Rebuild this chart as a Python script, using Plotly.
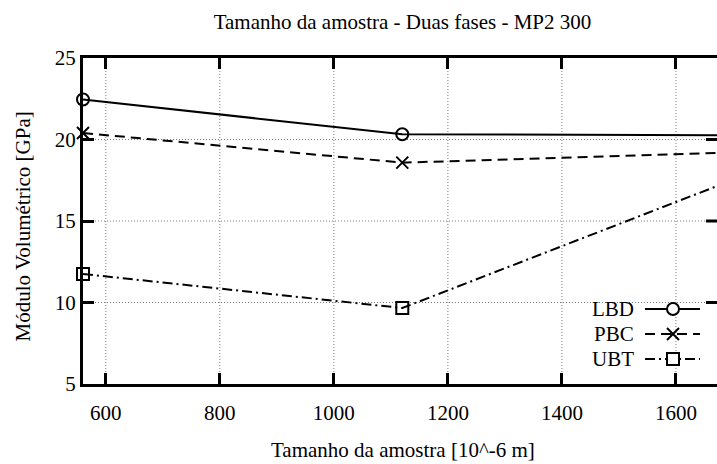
import plotly.graph_objects as go

# ---- data ----
sizes = [560, 1120, 1680]
lbd = [22.45, 20.32, 20.26]
pbc = [20.40, 18.58, 19.18]
ubt = [11.75, 9.66, 17.25]
series_names = ["LBD", "PBC", "UBT"]
x_ticks = [600, 800, 1000, 1200, 1400, 1600]
y_ticks = [5, 10, 15, 20, 25]

FONT = "Liberation Serif"
FS = 21
W, H = 717, 464
L, R, T, B = 83, 0, 58, 80
PW, PH = W - L - R, H - T - B
AXW, TKL = 3, 11
LW = 2


def px(xp):
    return (xp - L) / PW


def py(yp):
    return (H - B - yp) / PH


styles = [
    dict(dash="solid", symbol="circle-open"),
    dict(dash="10px,6px", symbol="x-thin-open"),
    dict(dash="10px,4px,2px,4px", symbol="square-open"),
]

fig = go.Figure()

# dotted grid (drawn below the data)
grid = dict(color="#7a7a7a", width=1, dash="1px,2px")
for xt in x_ticks:
    fig.add_shape(type="line", xref="x", yref="paper", x0=xt, x1=xt, y0=0, y1=1,
                  line=grid, layer="below")
for yt in y_ticks[1:-1]:
    fig.add_shape(type="line", xref="paper", yref="y", x0=0, x1=1, y0=yt, y1=yt,
                  line=grid, layer="below")

for name, vals, st in zip(series_names, [lbd, pbc, ubt], styles):
    fig.add_trace(go.Scatter(
        x=sizes, y=vals, mode="lines+markers", name=name,
        line=dict(color="black", width=LW, dash=st["dash"]),
        marker=dict(symbol=st["symbol"], size=12, color="black",
                    line=dict(color="black", width=LW)),
        cliponaxis=False, showlegend=False,
    ))

# ---- custom gnuplot-like key (text left, sample right) ----
key_y = [309, 334, 359]
ln = dict(color="black", width=LW)
for name, st, ky in zip(series_names, styles, key_y):
    fig.add_shape(type="line", xref="paper", yref="paper",
                  x0=px(645), x1=px(700), y0=py(ky), y1=py(ky),
                  line=dict(color="black", width=LW, dash=st["dash"]))
    cx, r = 673, 6
    if st["symbol"] == "circle-open":
        fig.add_shape(type="circle", xref="paper", yref="paper",
                      x0=px(cx - r), x1=px(cx + r), y0=py(ky + r), y1=py(ky - r),
                      line=ln, fillcolor="white")
    elif st["symbol"] == "square-open":
        fig.add_shape(type="rect", xref="paper", yref="paper",
                      x0=px(cx - r), x1=px(cx + r), y0=py(ky + r), y1=py(ky - r),
                      line=ln, fillcolor="white")
    else:
        for s in (1, -1):
            fig.add_shape(type="line", xref="paper", yref="paper",
                          x0=px(cx - r), x1=px(cx + r),
                          y0=py(ky - s * r), y1=py(ky + s * r), line=ln)
    fig.add_annotation(x=px(636), y=py(ky), xref="paper", yref="paper", text=name,
                       showarrow=False, xanchor="right", yanchor="middle",
                       font=dict(family=FONT, size=FS, color="black"))

# right-hand mirrored ticks (the right border itself lies just outside the picture)
for yt in y_ticks[1:-1]:
    fig.add_shape(type="line", xref="paper", yref="y",
                  x0=1 - TKL / PW, x1=1, y0=yt, y1=yt,
                  line=dict(color="black", width=AXW))

axis_font = dict(family=FONT, size=FS, color="black")
common = dict(ticks="inside", ticklen=TKL, tickwidth=AXW, tickcolor="black",
              showline=True, linewidth=AXW, linecolor="black",
              showgrid=False, zeroline=False, tickfont=axis_font)
fig.update_layout(
    width=W, height=H,
    margin=dict(l=L, r=R, t=T, b=B),
    paper_bgcolor="white", plot_bgcolor="white",
    font=axis_font,
    title=dict(text="Tamanho da amostra - Duas fases - MP2 300",
               x=402.5 / W, xref="container", xanchor="center",
               y=1 - 22 / H, yref="container", yanchor="middle",
               font=dict(family=FONT, size=FS, color="black")),
    xaxis=dict(range=[560, 1672], tickvals=x_ticks, mirror="ticks",
               ticklabelstandoff=8, **common),
    yaxis=dict(range=[5, 25], tickvals=y_ticks, mirror=False, **common),
)

fig.add_annotation(text="Tamanho da amostra [10^-6 m]", xref="paper", yref="paper",
                   x=px(403), y=py(450),
                   showarrow=False, xanchor="center", yanchor="middle",
                   font=axis_font)
fig.add_annotation(text="Módulo Volumétrico [GPa]", xref="paper", yref="paper",
                   x=px(22), y=py(226.5),
                   showarrow=False, xanchor="center", yanchor="middle",
                   textangle=-90, font=axis_font)

fig.write_html("out.html")
